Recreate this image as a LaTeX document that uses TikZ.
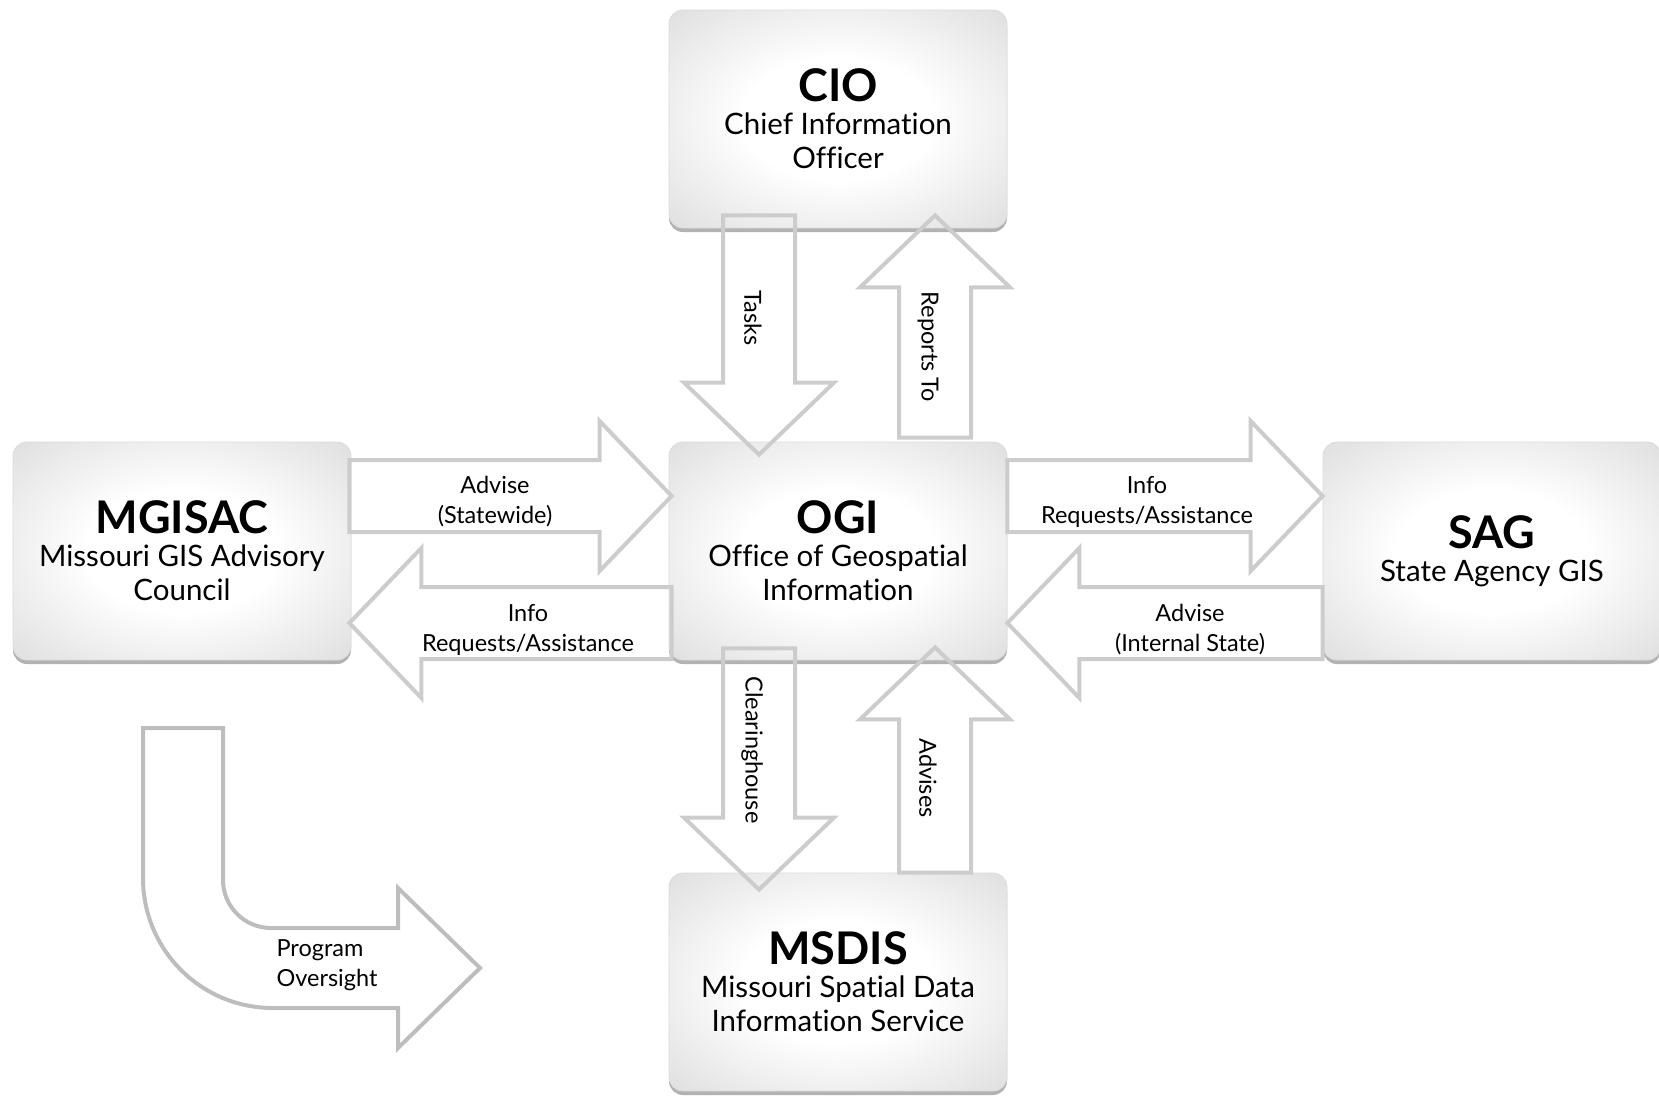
\documentclass[tikz,border=0pt]{standalone}
\usepackage{fontspec}
\setmainfont{Lato}[Ligatures=NoCommon]
\usepackage{tikz}
\usetikzlibrary{calc, shadows, positioning}

\pgfdeclareradialshading{glossy}{\pgfpoint{0bp}{0bp}}{color(0bp)=(white); color(14bp)=(white); color(50bp)=(black!21)}

% block arrow between two named coordinates
\newcommand{\blockarrow}[3][]{%
  \coordinate (ba-base) at ($(#3)!72pt!(#2)$);
  \draw[flow,#1] ($(#2)!36pt!90:(#3)$) -- ($(ba-base)!36pt!90:(#3)$) -- ($(ba-base)!75pt!90:(#3)$)
    -- (#3) -- ($(ba-base)!75pt!-90:(#3)$) -- ($(ba-base)!36pt!-90:(#3)$) -- ($(#2)!36pt!-90:(#3)$) -- cycle;}

\newcommand{\boxtitle}[1]{{\fontsize{45}{46}\selectfont\bfseries #1}\\[-1pt]}

\begin{document}
\begin{tikzpicture}[x=1pt, y=-1pt,
    box/.style={rounded corners=14pt, minimum width=338pt, minimum height=218pt, align=center,
      shading=glossy, draw=black!14, line width=0.8pt,
      drop shadow={shadow xshift=0pt, shadow yshift=-4pt, opacity=0.55, fill=black!55},
      font=\fontsize{29.5}{34}\selectfont},
    flow/.style={draw=black!20, line width=4pt},
    lbl/.style={align=center, font=\fontsize{23.5}{30}\selectfont}]
    \useasboundingbox (0,0) rectangle (1659,1096);
    % boxes
    \node[box] (ogi) at (838,551) {\boxtitle{OGI}Office of Geospatial\\Information};
    \node[box] (cio) at (838,119) {\boxtitle{CIO}Chief Information\\Officer};
    \node[box] (mgisac) at (182,551) {\boxtitle{MGISAC}Missouri GIS Advisory\\Council};
    \node[box] (sag) at (1492,551) {\boxtitle{SAG}State Agency GIS};
    \node[box] (msdis) at (838,982) {\boxtitle{MSDIS}Missouri Spatial Data\\Information Service};

    % arrow ends
    \coordinate (advs-a) at ($(mgisac.east)+(-2,-55)$);
    \coordinate (advs-b) at ($(ogi.west)+(3,-55)$);
    \coordinate (infl-a) at ($(ogi.west)+(3,72)$);
    \coordinate (infl-b) at ($(mgisac.east)+(-2,72)$);
    \coordinate (infr-a) at ($(ogi.east)+(0,-55)$);
    \coordinate (infr-b) at ($(sag.west)+(0,-55)$);
    \coordinate (advi-a) at ($(sag.west)+(0,72)$);
    \coordinate (advi-b) at ($(ogi.east)+(0,72)$);
    \coordinate (task-a) at ($(cio.south)+(-79,-13)$);
    \coordinate (task-b) at ($(ogi.north)+(-79,13)$);
    \coordinate (rept-a) at ($(ogi.north)+(97,-4)$);
    \coordinate (rept-b) at ($(cio.south)+(97,-13)$);
    \coordinate (clr-a) at ($(ogi.south)+(-79,-12)$);
    \coordinate (clr-b) at ($(msdis.north)+(-79,17)$);
    \coordinate (advm-a) at ($(msdis.north)+(97,0)$);
    \coordinate (advm-b) at ($(ogi.south)+(97,-13)$);

    \blockarrow{advs-a}{advs-b}
    \blockarrow{infl-a}{infl-b}
    \blockarrow{infr-a}{infr-b}
    \blockarrow{advi-a}{advi-b}
    \blockarrow{task-a}{task-b}
    \blockarrow{rept-a}{rept-b}
    \blockarrow{clr-a}{clr-b}
    \blockarrow{advm-a}{advm-b}

    % program oversight
    \draw[flow, draw=black!26] (143,728) -- (143,878) .. controls (143,950) and (201,1008) .. (273,1008)
      -- (398,1008) -- (398,1048) -- (480,968) -- (398,888) -- (398,928) -- (271,928)
      .. controls (244.5,928) and (223,906.5) .. (223,880) -- (223,728) -- cycle;

    % labels
    \node[lbl] (l-advs) at (495,502) {Advise\\(Statewide)};
    \node[lbl] (l-infl) at (528,630) {Info\\Requests/Assistance};
    \node[lbl] (l-infr) at (1147,502) {Info\\Requests/Assistance};
    \node[lbl] (l-advi) at (1190,630) {Advise\\(Internal State)};
    \node[lbl, rotate=-90] (l-task) at (753,318) {Tasks};
    \node[lbl, rotate=-90] (l-rept) at (928,347) {Reports To};
    \node[lbl, rotate=-90] (l-clr) at (752,750) {Clearinghouse};
    \node[lbl, rotate=-90] (l-advm) at (928,778) {Advises};
    \node[lbl, align=left, anchor=west] (l-prog) at (273,965) {Program\\Oversight};
\end{tikzpicture}
\end{document}
